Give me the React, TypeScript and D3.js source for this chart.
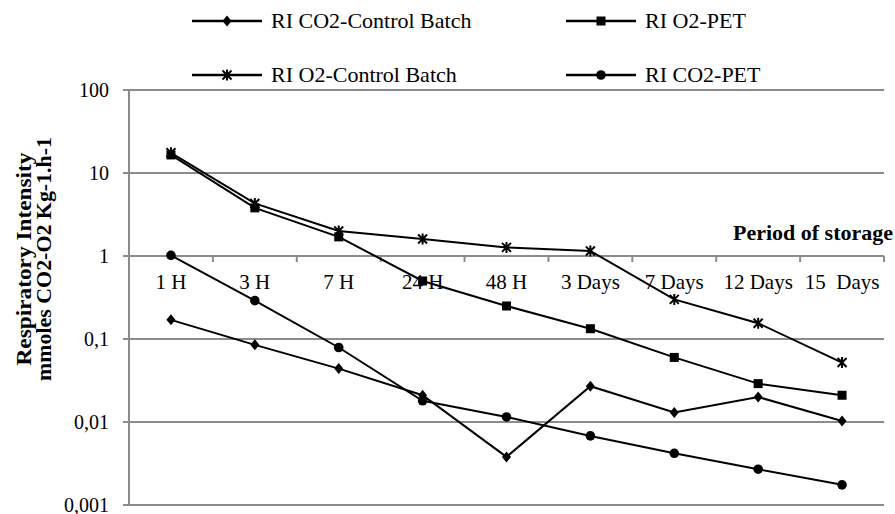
import * as d3 from "d3";
import { useEffect, useRef } from "react";

const categories = ["1 H", "3 H", "7 H", "24 H", "48 H", "3 Days", "7 Days", "12 Days", "15  Days"];

const co2Control = [0.17, 0.085, 0.044, 0.021, 0.0038, 0.027, 0.013, 0.02, 0.0103];
const o2Pet = [16.5, 3.8, 1.7, 0.5, 0.25, 0.133, 0.06, 0.029, 0.021];
const o2Control = [17.5, 4.3, 2.0, 1.6, 1.27, 1.15, 0.3, 0.155, 0.052];
const co2Pet = [1.02, 0.29, 0.079, 0.018, 0.0115, 0.0068, 0.0042, 0.0027, 0.00175];

const yTicks = [0.001, 0.01, 0.1, 1, 10, 100];
const yTickLabels = ["0,001", "0,01", "0,1", "1", "10", "100"];

const series = [
  { name: "RI CO2-Control Batch", values: co2Control, marker: "diamond" },
  { name: "RI O2-PET", values: o2Pet, marker: "square" },
  { name: "RI O2-Control Batch", values: o2Control, marker: "star" },
  { name: "RI CO2-PET", values: co2Pet, marker: "circle" },
];

const W = 895;
const H = 514;
const FONT = "'Liberation Serif', 'Times New Roman', serif";

function drawMarker(g: any, type: string, x: number, y: number) {
  if (type === "diamond") {
    g.append("path")
      .attr("d", `M${x},${y - 5.5}L${x + 4.5},${y}L${x},${y + 5.5}L${x - 4.5},${y}Z`)
      .attr("fill", "#000");
  } else if (type === "square") {
    g.append("rect")
      .attr("x", x - 4.5).attr("y", y - 4.5)
      .attr("width", 9).attr("height", 9)
      .attr("fill", "#000");
  } else if (type === "circle") {
    g.append("circle").attr("cx", x).attr("cy", y).attr("r", 4.8).attr("fill", "#000");
  } else {
    const s = 4.5;
    g.append("path")
      .attr("d", `M${x - s},${y - s}L${x + s},${y + s}M${x - s},${y + s}L${x + s},${y - s}M${x},${y - s - 1}L${x},${y + s + 1}`)
      .attr("stroke", "#000").attr("stroke-width", 2).attr("fill", "none");
  }
}

export default function App() {
  const ref = useRef<SVGSVGElement | null>(null);

  useEffect(() => {
    const svg = d3.select(ref.current);
    svg.selectAll("*").remove();

    const left = 129, right = 884, top = 90, bottom = 505;

    const x = d3.scaleBand().domain(categories).range([left, right]).padding(0);
    const y = d3.scaleLog().domain([0.001, 100]).range([bottom, top]);
    const cx = (c: string) => (x(c) as number) + x.bandwidth() / 2;

    // сетка
    svg.append("g").selectAll("line").data(yTicks).enter().append("line")
      .attr("x1", left).attr("x2", right)
      .attr("y1", d => y(d)).attr("y2", d => y(d))
      .attr("stroke", "#8c8c8c").attr("stroke-width", 2);

    // ось y
    svg.append("line").attr("x1", left).attr("x2", left).attr("y1", top).attr("y2", bottom)
      .attr("stroke", "#8c8c8c").attr("stroke-width", 2);
    svg.append("g").selectAll("line").data(yTicks).enter().append("line")
      .attr("x1", left - 6).attr("x2", left)
      .attr("y1", d => y(d)).attr("y2", d => y(d))
      .attr("stroke", "#8c8c8c").attr("stroke-width", 2);
    svg.append("g").selectAll("text").data(yTicks).enter().append("text")
      .attr("x", 109).attr("y", d => y(d))
      .attr("dy", "0.33em").attr("text-anchor", "end")
      .style("font-family", FONT).style("font-size", "20px")
      .text((d, i) => yTickLabels[i]);

    // ось x пересекает y в 1
    const y1 = y(1);
    const tickXs = categories.map(c => x(c) as number).concat([right]);
    svg.append("g").selectAll("line").data(tickXs).enter().append("line")
      .attr("x1", d => d).attr("x2", d => d)
      .attr("y1", y1).attr("y2", y1 + 6)
      .attr("stroke", "#8c8c8c").attr("stroke-width", 2);
    svg.append("g").selectAll("text").data(categories).enter().append("text")
      .attr("x", d => cx(d)).attr("y", y1 + 26)
      .attr("dy", "0.35em").attr("text-anchor", "middle")
      .style("font-family", FONT).style("font-size", "21px")
      .style("white-space", "pre")
      .text(d => d);

    svg.append("text")
      .attr("x", 893).attr("y", 240)
      .attr("text-anchor", "end")
      .style("font-family", FONT).style("font-size", "22px").style("font-weight", "bold")
      .text("Period of storage");

    // подпись оси y
    const yt = svg.append("text")
      .attr("transform", `translate(0, 259) rotate(-90)`)
      .attr("text-anchor", "middle")
      .style("font-family", FONT).style("font-size", "21px").style("font-weight", "bold");
    yt.append("tspan").attr("x", 0).attr("y", 31)
      .attr("textLength", 213).attr("lengthAdjust", "spacingAndGlyphs")
      .text("Respiratory Intensity");
    yt.append("tspan").attr("x", 0).attr("y", 51)
      .attr("textLength", 244).attr("lengthAdjust", "spacingAndGlyphs")
      .text("mmoles CO2-O2 Kg-1.h-1");

    // линии
    const line = d3.line<number>()
      .x((d, i) => cx(categories[i]))
      .y(d => y(d));

    series.forEach(s => {
      const g = svg.append("g");
      g.append("path").attr("d", line(s.values))
        .attr("fill", "none").attr("stroke", "#000").attr("stroke-width", 2);
      s.values.forEach((v, i) => drawMarker(g, s.marker, cx(categories[i]), y(v)));
    });

    // легенда
    const legendPos = [
      { lx: 192, ly: 21 },
      { lx: 566, ly: 21 },
      { lx: 192, ly: 75 },
      { lx: 566, ly: 75 },
    ];
    series.forEach((s, i) => {
      const { lx, ly } = legendPos[i];
      const g = svg.append("g");
      g.append("line").attr("x1", lx).attr("x2", lx + 70).attr("y1", ly).attr("y2", ly)
        .attr("stroke", "#000").attr("stroke-width", 2.5);
      drawMarker(g, s.marker, lx + 35, ly);
      g.append("text").attr("x", lx + 79).attr("y", ly).attr("dy", "0.33em")
        .style("font-family", FONT).style("font-size", "22px")
        .text(s.name);
    });
  }, []);

  return (
    <svg ref={ref} width={W} height={H}
      style={{ position: "absolute", left: 0, top: 0, background: "#fff" }} />
  );
}
